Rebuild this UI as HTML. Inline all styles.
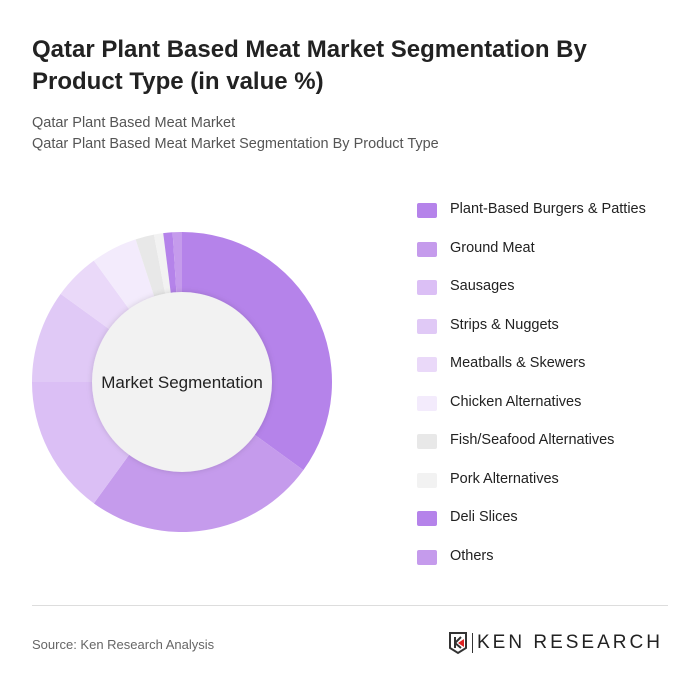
<!DOCTYPE html>
<html><head><meta charset="utf-8"><style>
body{margin:0;width:700px;height:691px;background:#fff;font-family:"Liberation Sans",sans-serif;position:relative;overflow:hidden}
.t{position:absolute;left:32px;top:34px;font-size:24px;font-weight:bold;color:#222;line-height:32px;width:640px}
.s{position:absolute;left:32px;font-size:14.5px;color:#555}
.leg{position:absolute;left:418px;font-size:14.5px;color:#222}
.sw{position:absolute;left:-1px;width:20px;height:15px;border-radius:2px}
.li{position:absolute;left:0;height:20px;white-space:nowrap}
.li span{margin-left:32px}
</style></head><body>
<div class="t">Qatar Plant Based Meat Market Segmentation By Product Type (in value %)</div>
<div class="s" style="top:115px">Qatar Plant Based Meat Market</div>
<div class="s" style="top:136px">Qatar Plant Based Meat Market Segmentation By Product Type</div>
<svg id="donut" width="700" height="691" style="position:absolute;left:0;top:0">
<defs><filter id="sh" x="-20%" y="-20%" width="140%" height="140%"><feDropShadow dx="0" dy="0" stdDeviation="3" flood-opacity="0.15"/></filter></defs>
<g id="slices"></g>
<circle cx="182" cy="382" r="90" fill="#f2f2f2" filter="url(#sh)"/>
<text x="182" y="388" text-anchor="middle" font-size="17" fill="#222" font-family="Liberation Sans, sans-serif">Market Segmentation</text>
</svg>
<div class="leg" id="legend"></div>
<div style="position:absolute;left:32px;top:605px;width:636px;height:1px;background:#ddd"></div>
<div class="s" style="top:637px;font-size:13px;color:#666">Source: Ken Research Analysis</div>
<div style="position:absolute;left:448px;top:631px;display:flex;align-items:center">
<svg width="20" height="24"><path d="M2 2h16v15l-8 5-8-5z" fill="none" stroke="#333" stroke-width="2"/><path d="M7 6v11M7 12l6-6M7 12l6 5" stroke="#333" stroke-width="2" fill="none"/><path d="M10 12l6-4v8z" fill="#d22"/></svg>
<div style="width:1px;height:20px;background:#333;margin:0 4px"></div>
<span style="font-size:19px;color:#222;letter-spacing:3px">KEN RESEARCH</span></div>
<script>
const categories=["Plant-Based Burgers & Patties","Ground Meat","Sausages","Strips & Nuggets","Meatballs & Skewers","Chicken Alternatives","Fish/Seafood Alternatives","Pork Alternatives","Deli Slices","Others"];
const values=[35,25,15,10,5,5,2,1,1,1];
const colors=["#b583ea","#c59bec","#dbbff5","#e0c9f6","#ead9f9","#f3ebfc","#e8e8e8","#f2f2f2","#b583ea","#c59bec"];
const cx=182,cy=382,R=150,r=90;
const g=document.getElementById('slices');
const total=values.reduce((a,b)=>a+b,0);
function pt(a,rad){return [cx+rad*Math.sin(a),cy-rad*Math.cos(a)];}
let acc=0;
values.forEach((v,i)=>{
 const a0=acc/total*2*Math.PI;acc+=v;const a1=acc/total*2*Math.PI;
 const [x0,y0]=pt(a0,R),[x1,y1]=pt(a1,R),[x2,y2]=pt(a1,r-5),[x3,y3]=pt(a0,r-5);
 const large=(a1-a0)>Math.PI?1:0;
 const p=document.createElementNS('http://www.w3.org/2000/svg','path');
 p.setAttribute('d',`M${x0} ${y0}A${R} ${R} 0 ${large} 1 ${x1} ${y1}L${x2} ${y2}A${r-5} ${r-5} 0 ${large} 0 ${x3} ${y3}Z`);
 p.setAttribute('fill',colors[i]);
 
 
 g.appendChild(p);
});
const leg=document.getElementById('legend');
categories.forEach((c,i)=>{
 const d=document.createElement('div');d.className='li';d.style.top=(201+i*38.5)+'px';
 
 
 d.innerHTML=`<div class="sw" style="top:2px;background:${colors[i]}"></div><span>${c}</span>`;
 leg.appendChild(d);
});
</script>
</body></html>
